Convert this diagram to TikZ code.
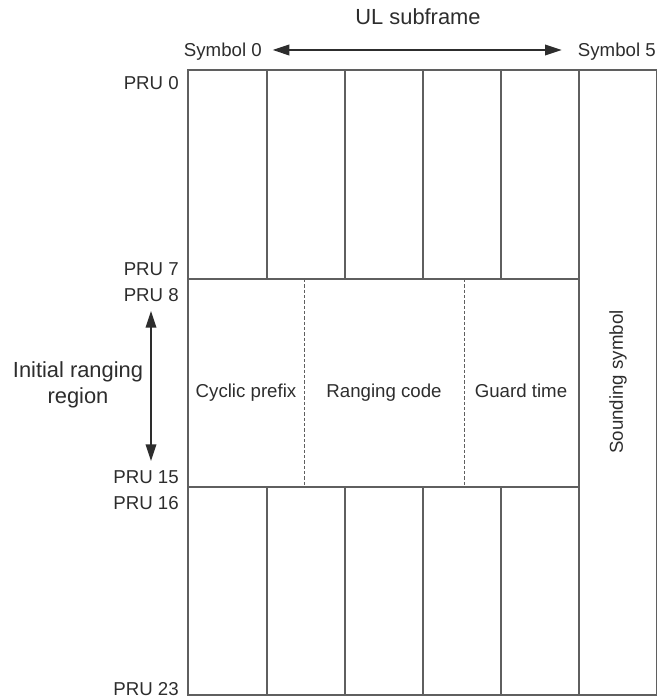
\documentclass[tikz,border=0pt]{standalone}
\usepackage{fontspec}
\setmainfont{Liberation Sans}
\usetikzlibrary{positioning,arrows.meta}
\definecolor{Ink}{RGB}{45,45,45}
\definecolor{Rule}{RGB}{95,95,95}

\begin{document}
\begin{tikzpicture}[x=.75pt,y=-.75pt,
 lbl/.style={text=Ink,font=\fontsize{14}{16}\selectfont,inner sep=0pt},
 big/.style={text=Ink,font=\fontsize{16.4}{19.5}\selectfont,align=center,inner sep=0pt},
 grid/.style={draw=Rule,line width=.8pt},
 cut/.style={draw=Rule,line width=.6pt,dash pattern=on 2.5pt off 1.5pt},
 a/.style={{Triangle[length=12.5pt,width=8pt]}-{Triangle[length=12.5pt,width=8pt]},line width=1.1pt,Ink}]
\useasboundingbox (0,0) rectangle (658,698);
% grid of the subframe
\draw[grid] (188,70) rectangle (656.5,695);
\draw[grid] (579,70) -- (579,695);
\draw[grid] (188,279) -- (579,279);
\draw[grid] (188,487) -- (579,487);
\foreach \x in {267,345,423,501} {
 \draw[grid] (\x,70) -- (\x,279);
 \draw[grid] (\x,487) -- (\x,695);
}
\draw[cut] (304,279) -- (304,487);
\draw[cut] (464,279) -- (464,487);
% symbols
\node[big,anchor=base] (ul) at (418,25) {UL subframe};
\node[lbl,anchor=base east] (s0) at (262,57) {Symbol 0};
\node[lbl,anchor=base east] (s5) at (656,57) {Symbol 5};
\draw[a,shorten <=8pt,shorten >=12pt] (s0.east |- 0,50) -- (s5.west |- 0,50);
% resource units
\node[lbl,anchor=base east] (p0) at (179,90) {PRU 0};
\node[lbl,anchor=base east] (p7) at (179,275) {PRU 7};
\node[lbl,anchor=base east] (p8) at (179,301) {PRU 8};
\node[lbl,anchor=base east] (p15) at (179,483) {PRU 15};
\node[lbl,anchor=base east] (p16) at (179,509) {PRU 16};
\node[lbl,anchor=base east] (p23) at (179,695) {PRU 23};
% ranging region
\coordinate (rtop) at (151,311);
\coordinate (rbot) at (151,461);
\draw[a] (rtop) -- (rbot);
\node[big,anchor=base] (irr) at (78,403) {Initial ranging\\region};
\node[lbl,anchor=base] (cp) at (246,397) {Cyclic prefix};
\node[lbl,anchor=base] (rc) at (384,397) {Ranging code};
\node[lbl,anchor=base] (gt) at (521,397) {Guard time};
\node[lbl,rotate=90] (ss) at (618,382) {Sounding symbol};
\end{tikzpicture}
\end{document}
